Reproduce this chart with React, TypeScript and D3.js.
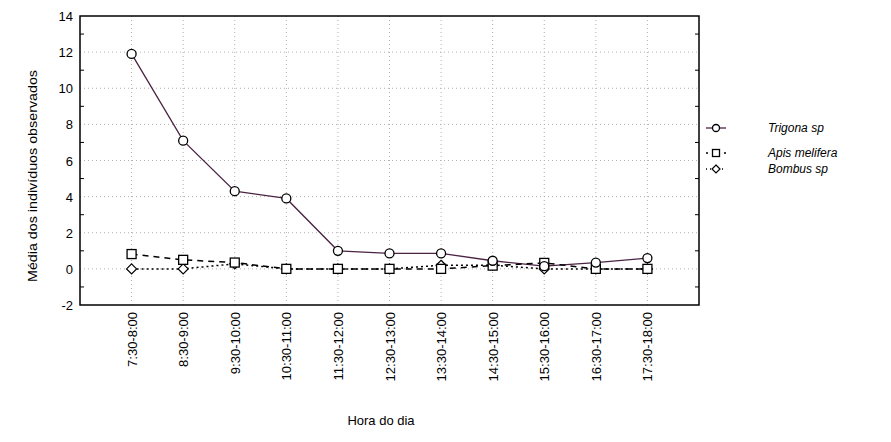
import React, { useEffect, useRef } from 'react';
import * as d3 from 'd3';

const categories = ['7:30-8:00', '8:30-9:00', '9:30-10:00', '10:30-11:00', '11:30-12:00', '12:30-13:00',
    '13:30-14:00', '14:30-15:00', '15:30-16:00', '16:30-17:00', '17:30-18:00'];
const trigona = [11.9, 7.1, 4.3, 3.9, 1.0, 0.86, 0.86, 0.45, 0.15, 0.35, 0.6];
const apis = [0.82, 0.5, 0.35, 0.0, 0.0, 0.0, 0.0, 0.18, 0.33, 0.0, 0.0];
const bombus = [0.0, 0.0, 0.28, 0.0, 0.0, 0.0, 0.2, 0.2, 0.0, 0.0, 0.0];
const yTicks = [-2, 0, 2, 4, 6, 8, 10, 12, 14];

const series = [
    { label: 'Trigona sp', values: trigona, color: '#4b2444', dash: null, marker: 'circle' },
    { label: 'Apis melifera', values: apis, color: '#000', dash: '6,5', marker: 'square' },
    { label: 'Bombus sp', values: bombus, color: '#000', dash: '2,3', marker: 'diamond' }
];

export default function App() {
    const ref = useRef<SVGSVGElement>(null);

    useEffect(() => {
        const svg = d3.select(ref.current);
        svg.selectAll('*').remove();

        const left = 80, right = 699, top = 16, bottom = 305;
        const x = d3.scalePoint().domain(categories).range([left, right]).padding(1);
        const y = d3.scaleLinear().domain([-2, 14]).range([bottom, top]);
        const font = 'Arial, "Liberation Sans", sans-serif';

        // grid
        const grid = svg.append('g').attr('stroke', '#b0b0b0').attr('stroke-dasharray', '1,3');
        yTicks.slice(1, -1).forEach(t => {
            grid.append('line').attr('x1', left).attr('x2', right).attr('y1', y(t)).attr('y2', y(t));
        });
        categories.forEach(c => {
            grid.append('line').attr('x1', x(c)!).attr('x2', x(c)!).attr('y1', top).attr('y2', bottom);
        });

        // minor ticks on left/right
        d3.range(-1, 14, 2).forEach(t => {
            svg.append('line').attr('x1', left).attr('x2', left + 4).attr('y1', y(t)).attr('y2', y(t)).attr('stroke', '#000');
            svg.append('line').attr('x1', right).attr('x2', right - 4).attr('y1', y(t)).attr('y2', y(t)).attr('stroke', '#000');
        });

        svg.append('rect').attr('x', left).attr('y', top).attr('width', right - left).attr('height', bottom - top)
            .attr('fill', 'none').attr('stroke', '#000').attr('stroke-width', 1.5);

        // y tick labels
        yTicks.forEach(t => {
            svg.append('text').attr('x', left - 7).attr('y', y(t) + 5).attr('text-anchor', 'end')
                .style('font-family', font).style('font-size', '13px').text(t);
        });

        // x tick labels
        categories.forEach(c => {
            svg.append('text')
                .attr('transform', `translate(${x(c)! + 5},${bottom + 7}) rotate(-90)`)
                .attr('text-anchor', 'end')
                .style('font-family', font).style('font-size', '13px').text(c);
        });

        svg.append('text').attr('x', 381).attr('y', 425).attr('text-anchor', 'middle')
            .style('font-family', font).style('font-size', '13px').text('Hora do dia');
        svg.append('text').attr('transform', `translate(37,176) rotate(-90)`)
            .attr('text-anchor', 'middle')
            .style('font-family', font).style('font-size', '13px')
            .attr('textLength', 212).attr('lengthAdjust', 'spacingAndGlyphs')
            .text('Média dos indivíduos observados');

        const drawMarker = (g: any, type: string, cx: number, cy: number, r: number) => {
            if (type === 'circle') {
                g.append('circle').attr('cx', cx).attr('cy', cy).attr('r', r)
                    .attr('fill', '#fff').attr('stroke', '#000').attr('stroke-width', 1.3);
            } else if (type === 'square') {
                g.append('rect').attr('x', cx - r).attr('y', cy - r).attr('width', 2 * r).attr('height', 2 * r)
                    .attr('fill', '#fff').attr('stroke', '#000').attr('stroke-width', 1.3);
            } else {
                const d = r + 0.5;
                g.append('path').attr('d', `M${cx},${cy - d}L${cx + d},${cy}L${cx},${cy + d}L${cx - d},${cy}Z`)
                    .attr('fill', '#fff').attr('stroke', '#000').attr('stroke-width', 1.2);
            }
        };

        const line = d3.line<number>().x((_, i) => x(categories[i])!).y(d => y(d));
        series.forEach(s => {
            svg.append('path').datum(s.values).attr('d', line).attr('fill', 'none')
                .attr('stroke', s.color).attr('stroke-width', s.marker === 'circle' ? 1.3 : 1.5)
                .attr('stroke-dasharray', s.dash);
        });
        series.slice().reverse().forEach(s => {
            const g = svg.append('g');
            s.values.forEach((v, i) => drawMarker(g, s.marker, x(categories[i])!, y(v), 4.5));
        });

        // legend
        const legendY = [128, 153, 169];
        series.forEach((s, i) => {
            const g = svg.append('g');
            const ly = legendY[i];
            g.append('line').attr('x1', 706).attr('x2', 726).attr('y1', ly).attr('y2', ly)
                .attr('stroke', s.color).attr('stroke-width', 1.3)
                .attr('stroke-dasharray', s.dash ? (s.marker === 'square' ? '2,16' : '1,3') : null);
            drawMarker(g, s.marker, 716, ly, 3.5);
            g.append('text').attr('x', 768).attr('y', ly + 4)
                .style('font-family', font).style('font-size', '12px').style('font-style', 'italic').text(s.label);
        });
    }, []);

    return (
        <svg ref={ref} width={891} height={442}
            style={{ position: 'absolute', left: 0, top: 0, background: '#fff' }} />
    );
}
